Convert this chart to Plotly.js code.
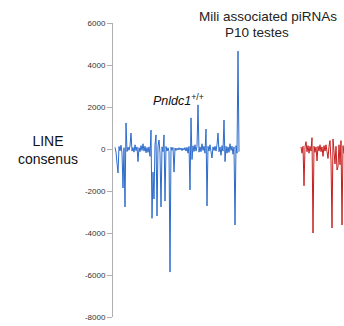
<!DOCTYPE html>
<html>
<head>
<meta charset="utf-8">
<script src="https://cdn.plot.ly/plotly-3.0.1.min.js"></script>
<style>html,body{margin:0;padding:0;background:#fff;}#chart{width:344px;height:326px;}</style>
</head>
<body>
<div id="chart"></div>
<script>
// Pnldc1+/+ (blue) read per position along LINE consensus
const blueValues = [80,-150,-670,-1140,120,-90,180,-200,-1860,60,
-2760,1240,-120,90,-60,140,760,-100,70,-150,
200,-80,100,-600,60,-130,160,-70,250,-100,
130,-180,70,-160,100,-350,900,-3300,-1100,-2380,
200,670,-3190,130,430,-200,-2760,100,-130,670,
-2480,120,-100,60,-120,-5860,90,-60,70,-1100,
50,-70,40,-50,60,-40,50,-80,40,-50,
70,-100,80,-200,120,-1950,1480,-500,150,-120,
200,-100,130,2100,-150,100,-130,250,-70,130,
-200,950,-2710,130,-100,200,-130,-430,100,-70,
130,-100,200,760,-130,100,-300,160,-100,1380,
-600,130,-200,100,-160,250,-70,130,-250,100,
-3620,160,-200,4660,-130];
// second genotype (red), visible part only
const redValues = [100,-200,130,-1750,100,350,-130,160,-200,130,
-100,540,-4000,130,-160,100,-570,130,-100,200,
-130,100,-350,160,-100,200,-130,-450,130,400,
-550,-3760,475,-200,-710,130,-1000,-850,200,-750,
400,-3620,160,-200,130,-160];
const yTicks = [-8000,-6000,-4000,-2000,0,2000,4000,6000];
const yTickText = ['-8000','-6000','-4000','-2000','0','2000','4000','6000'];
const titleLine1 = 'Mili associated piRNAs';
const titleLine2 = 'P10 testes';
const rowLabel = 'LINE<br>consenus';
const genotypeLabel = '<i>Pnldc1</i><sup>+/+</sup>';

const redOffset = 186;
const blueX = blueValues.map((v,i)=>i);
const redX = redValues.map((v,i)=>i+redOffset);

const traces = [
  {x: blueX, y: blueValues, type:'scatter', mode:'lines',
   line:{color:'#2c6bcb', width:1}, hoverinfo:'skip'},
  {x: redX, y: redValues, type:'scatter', mode:'lines',
   line:{color:'#c62020', width:1}, hoverinfo:'skip'}
];
const font = 'Liberation Sans, Arial, sans-serif';
const layout = {
  width:344, height:326,
  margin:{l:113, r:0, t:23, b:9},
  paper_bgcolor:'#fff', plot_bgcolor:'#fff',
  showlegend:false,
  xaxis:{visible:false, range:[-2,229], fixedrange:true},
  yaxis:{range:[-8000,6000], tickvals:yTicks, ticktext:yTickText,
    showgrid:false, zeroline:false, showline:true, linecolor:'#b0b0b0', linewidth:1,
    ticks:'outside', ticklen:5, tickcolor:'#b0b0b0',
    tickfont:{family:font, size:8, color:'#333'}},
  annotations:[
    {text:titleLine1, xref:'paper', yref:'paper', x:(268-113)/231, y:(317-16.5)/294,
     xanchor:'center', yanchor:'middle', showarrow:false, font:{family:font, size:13.5, color:'#222'}},
    {text:titleLine2, xref:'paper', yref:'paper', x:(257-113)/231, y:(317-32.5)/294,
     xanchor:'center', yanchor:'middle', showarrow:false, font:{family:font, size:13.5, color:'#222'}},
    {text:rowLabel, xref:'paper', yref:'paper', x:(47.5-113)/231, y:(317-150)/294, xanchor:'center', yanchor:'middle',
     showarrow:false, font:{family:font, size:14, color:'#111'}},
    {text:genotypeLabel, xref:'x', yref:'y', x:63, y:2330, xanchor:'center', yanchor:'middle',
     showarrow:false, font:{family:font, size:12.5, color:'#111'}}
  ]
};
Plotly.newPlot('chart', traces, layout, {staticPlot:true, displayModeBar:false});
</script>
</body>
</html>
